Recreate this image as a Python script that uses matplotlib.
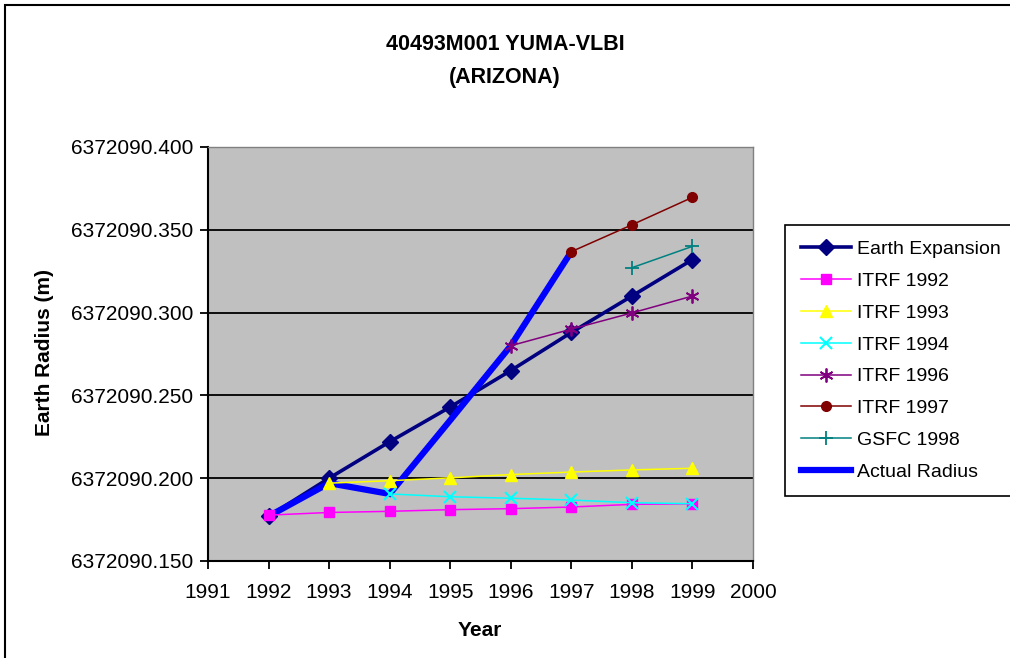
import matplotlib
matplotlib.use('Agg')
import matplotlib.pyplot as plt
from matplotlib.ticker import FormatStrFormatter, MultipleLocator
from matplotlib.patches import Rectangle

plt.rcParams['font.family'] = ['Liberation Sans', 'DejaVu Sans']

BASE = 6372090.0

# series data (year, radius offset from BASE in metres)
years_all = [1992, 1993, 1994, 1995, 1996, 1997, 1998, 1999]
earth_expansion = [0.177, 0.200, 0.222, 0.243, 0.265, 0.288, 0.310, 0.332]
itrf1992 = [0.1777, 0.1793, 0.1800, 0.1810, 0.1816, 0.1826, 0.1842, 0.1846]
years_1993 = [1993, 1994, 1995, 1996, 1997, 1998, 1999]
itrf1993 = [0.197, 0.1985, 0.2002, 0.2022, 0.2037, 0.2050, 0.2060]
years_1994 = [1994, 1995, 1996, 1997, 1998, 1999]
itrf1994 = [0.1905, 0.1888, 0.1879, 0.1868, 0.1852, 0.1846]
years_1996 = [1996, 1997, 1998, 1999]
itrf1996 = [0.280, 0.290, 0.2998, 0.310]
years_1997 = [1997, 1998, 1999]
itrf1997 = [0.3368, 0.3530, 0.3696]
years_1998 = [1998, 1999]
gsfc1998 = [0.3271, 0.3400]
years_actual = [1992, 1993, 1994, 1995, 1996, 1997]
actual_radius = [0.177, 0.197, 0.1905, 0.235, 0.280, 0.3368]


def absval(vals):
    return [BASE + v for v in vals]


fig = plt.figure(figsize=(10.10, 6.58), dpi=100)
ax = fig.add_axes([208 / 1010, 1 - 561 / 658, (753 - 208) / 1010, (561 - 147) / 658])
ax.set_facecolor('#C0C0C0')

thin = 1.1
h1, = ax.plot(years_all, absval(earth_expansion), color='#000080', lw=2.6,
              marker='D', ms=8, label='Earth Expansion', zorder=3)
h8, = ax.plot(years_actual, absval(actual_radius), color='#0000FF', lw=4.5,
              solid_joinstyle='miter', label='Actual Radius', zorder=3.5)
h2, = ax.plot(years_all, absval(itrf1992), color='#FF00FF', lw=thin,
              marker='s', ms=7, label='ITRF 1992', zorder=4)
h3, = ax.plot(years_1993, absval(itrf1993), color='#FFFF00', lw=thin,
              marker='^', ms=9, label='ITRF 1993', zorder=4)
h4, = ax.plot(years_1994, absval(itrf1994), color='#00FFFF', lw=thin,
              marker='x', ms=9, mew=1.5, label='ITRF 1994', zorder=4)
h5, = ax.plot(years_1996, absval(itrf1996), color='#800080', lw=thin,
              marker=(6, 2, 0), ms=10, mew=1.3, label='ITRF 1996', zorder=4)
h6, = ax.plot(years_1997, absval(itrf1997), color='#800000', lw=thin,
              marker='o', ms=7, label='ITRF 1997', zorder=4)
h7, = ax.plot(years_1998, absval(gsfc1998), color='#008080', lw=thin,
              marker='+', ms=10, mew=1.3, label='GSFC 1998', zorder=4)

ax.set_xlim(1991, 2000)
ax.set_ylim(BASE + 0.150, BASE + 0.400)
ax.xaxis.set_major_locator(MultipleLocator(1))
ax.yaxis.set_major_locator(MultipleLocator(0.05))
ax.yaxis.set_major_formatter(FormatStrFormatter('%.3f'))
ax.grid(axis='y', color='black', lw=1.3)
ax.set_axisbelow(True)
for s in ax.spines.values():
    s.set_color('#808080')
    s.set_linewidth(1.0)
ax.spines['left'].set_color('black')
ax.spines['bottom'].set_color('black')
ax.spines['left'].set_linewidth(1.5)
ax.spines['bottom'].set_linewidth(1.5)
ax.tick_params(direction='out', length=5.5, width=1.3, labelsize=15)
ax.tick_params(axis='y', pad=5)
ax.tick_params(axis='x', pad=10)

fig.text(0.5, 1 - 61.5 / 658, '40493M001 YUMA-VLBI\n(ARIZONA)', ha='center', va='center',
         fontsize=15.5, fontweight='bold', linespacing=1.75)
fig.text(45 / 1010, 1 - 352 / 658, 'Earth Radius (m)', rotation=90, ha='center',
         va='center', fontsize=15, fontweight='bold')
fig.text(480 / 1010, 1 - 631 / 658, 'Year', ha='center', va='center',
         fontsize=15, fontweight='bold')

leg = fig.legend(handles=[h1, h2, h3, h4, h5, h6, h7, h8], loc='upper left',
                 bbox_to_anchor=(785 / 1010, 1 - 225 / 658), fontsize=14,
                 frameon=True, fancybox=False, edgecolor='black', framealpha=1,
                 handlelength=2.6, handletextpad=0.3, labelspacing=0.73,
                 borderpad=0.8, borderaxespad=0)
leg.get_frame().set_linewidth(1.2)

fig.patches.append(Rectangle((5 / 1010, -0.1), 1.2, 1 - 5 / 658 + 0.1,
                             transform=fig.transFigure, fill=False,
                             edgecolor='black', lw=1.5))

fig.savefig('out.png', dpi=100)
